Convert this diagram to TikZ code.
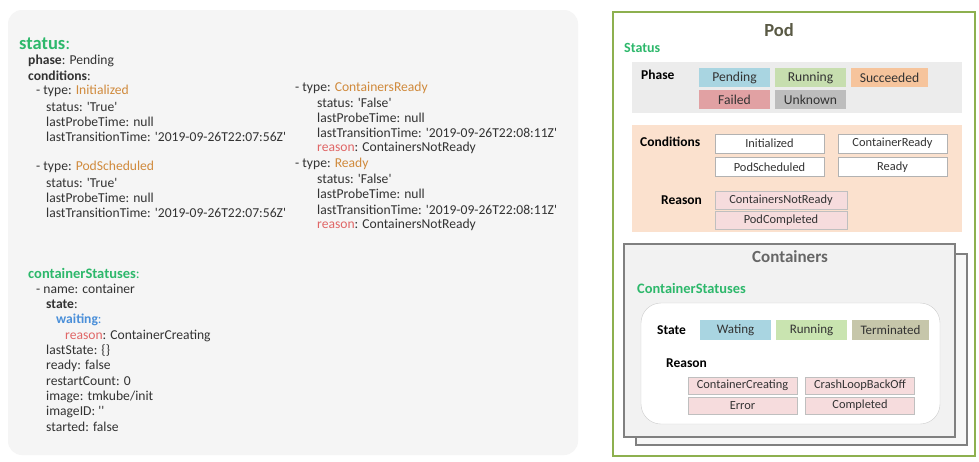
\documentclass[tikz,border=0pt]{standalone}
\usepackage{fontspec}
\setmainfont{Carlito}[Ligatures=TeXOff]
\definecolor{grn}{HTML}{2DB86B}
\definecolor{org}{HTML}{D08A3C}
\definecolor{rsn}{HTML}{E06666}
\definecolor{blu}{HTML}{4A8FD9}
\definecolor{txt}{HTML}{333333}
\definecolor{podbd}{HTML}{8DB04F}
\definecolor{podt}{HTML}{5A5A45}
\definecolor{phbg}{HTML}{ECECEC}
\definecolor{cobg}{HTML}{FBE1CE}
\definecolor{cpend}{HTML}{A9D5E1}
\definecolor{crun}{HTML}{C7DEAF}
\definecolor{csucc}{HTML}{F6C49C}
\definecolor{cfail}{HTML}{E1A1A3}
\definecolor{cunk}{HTML}{BDBDBD}
\definecolor{cpink}{HTML}{F6DCDD}
\definecolor{cterm}{HTML}{C6C6AA}
\definecolor{cwrun}{HTML}{C9E4B0}
\tikzset{
  code/.style={anchor=west, inner sep=0pt, text=txt, font=\fontsize{13.6}{15}\selectfont},
  lbl/.style={anchor=west, inner sep=0pt, text=black, font=\fontsize{13.5}{15}\selectfont\bfseries},
  tag/.style={inner sep=0pt, text=txt, font=\fontsize{12.4}{14}\selectfont, minimum height=19pt},
  ptag/.style={tag, font=\fontsize{13.6}{15}\selectfont, minimum width=71pt},
  wbox/.style={tag, fill=white, draw=black!30, minimum width=109pt},
  pbox/.style={tag, fill=cpink, draw=black!25, minimum width=109pt, minimum height=18pt},
}
\begin{document}
\begin{tikzpicture}[x=1pt,y=-1pt]
\useasboundingbox (0,0) rectangle (979,461);
\fill[white] (0,0) rectangle (979,461);
% left panel
\fill[black!4, rounded corners=14pt] (8,10) rectangle (578,455);
\node[anchor=west, inner sep=0pt, text=grn, font=\fontsize{18.5}{20}\selectfont\bfseries] (st) at (19,44) {status\textmd{:}};
\node[code] (ph) at (28,61) {\textbf{phase}: Pending};
\node[code] (co) at (28,76) {\textbf{conditions}:};
\node[code] (a1) at (36,91) {- type: \textcolor{org}{Initialized}};
\node[code] (a2) at (46,107) {status: 'True'};
\node[code] (a3) at (46,122) {lastProbeTime: null};
\node[code] (a4) at (46,137) {lastTransitionTime: '2019-09-26T22:07:56Z'};
\node[code] (b1) at (36,167) {- type: \textcolor{org}{PodScheduled}};
\node[code] (b2) at (46,183) {status: 'True'};
\node[code] (b3) at (46,198) {lastProbeTime: null};
\node[code] (b4) at (46,213) {lastTransitionTime: '2019-09-26T22:07:56Z'};
\node[code] (c1) at (295,88) {- type: \textcolor{org}{ContainersReady}};
\node[code] (c2) at (317,103) {status: 'False'};
\node[code] (c3) at (317,118) {lastProbeTime: null};
\node[code] (c4) at (317,133) {lastTransitionTime: '2019-09-26T22:08:11Z'};
\node[code] (c5) at (317,148) {\textcolor{rsn}{reason}: ContainersNotReady};
\node[code] (d1) at (295,164) {- type: \textcolor{org}{Ready}};
\node[code] (d2) at (317,179) {status: 'False'};
\node[code] (d3) at (317,194) {lastProbeTime: null};
\node[code] (d4) at (317,210) {lastTransitionTime: '2019-09-26T22:08:11Z'};
\node[code] (d5) at (317,225) {\textcolor{rsn}{reason}: ContainersNotReady};
\node[code, text=grn, font=\fontsize{14.5}{16}\selectfont] (cs) at (28,273) {\textbf{containerStatuses}:};
\node[code] (e1) at (36,289) {- name: container};
\node[code] (e2) at (46,304) {\textbf{state}:};
\node[code] (e3) at (56,320) {\textcolor{blu}{\textbf{waiting}:}};
\node[code] (e4) at (65,336) {\textcolor{rsn}{reason}: ContainerCreating};
\node[code] (e5) at (46,351) {lastState: \{\}};
\node[code] (e6) at (46,366) {ready: false};
\node[code] (e7) at (46,381) {restartCount: 0};
\node[code] (e8) at (46,397) {image: tmkube/init};
\node[code] (e9) at (46,412) {imageID: ''};
\node[code] (e10) at (46,427) {started: false};
% Pod
\draw[podbd, line width=1.6pt] (613,12) rectangle (975,456);
\node[text=podt, font=\fontsize{18.5}{20}\selectfont\bfseries, inner sep=0pt] (pod) at (779,30) {Pod};
\node[anchor=west, inner sep=0pt, text=grn, font=\fontsize{14}{16}\selectfont\bfseries] (pst) at (624,48) {Status};
% Phase
\fill[phbg] (632,62) rectangle (962,113);
\node[lbl] (phase) at (641,75) {Phase};
\node[ptag, fill=cpend] (pending) at (734.5,77.5) {Pending};
\node[ptag, fill=crun] (running) at (810.5,77.5) {Running};
\node[ptag, fill=csucc, minimum width=77pt] (succ) at (889.5,77.5) {Succeeded};
\node[ptag, fill=cfail] (failed) at (734.5,99.5) {Failed};
\node[ptag, fill=cunk] (unknown) at (810.5,99.5) {Unknown};
% Conditions
\fill[cobg] (632,125) rectangle (962,232);
\node[lbl] (cond) at (640,142) {Conditions};
\node[wbox] (init) at (769.5,143.5) {Initialized};
\node[wbox] (cready) at (892.5,143.5) {ContainerReady};
\node[wbox] (psched) at (769.5,167) {PodScheduled};
\node[wbox] (ready) at (892.5,167) {Ready};
\node[lbl] (reason1) at (661,200) {Reason};
\node[pbox, minimum width=132pt] (cnr) at (781,200) {ContainersNotReady};
\node[pbox, minimum width=132pt] (pcomp) at (781,220) {PodCompleted};
% Containers
\draw[black!50, line width=1.3pt, fill=black!3] (636,254) rectangle (967,445);
\draw[black!50, line width=1.3pt, fill=black!5] (624,244) rectangle (955,437);
\node[text=black!60, font=\fontsize{17}{19}\selectfont\bfseries, inner sep=0pt] (cont) at (790,257) {Containers};
\node[anchor=west, inner sep=0pt, text=grn, font=\fontsize{14.4}{16}\selectfont\bfseries] (cst) at (637,288) {ContainerStatuses};
\draw[black!20, fill=white, rounded corners=20pt] (641,303) rectangle (940,424);
\node[lbl] (state) at (657,330) {State};
\node[tag, fill=cpend, minimum width=71pt, minimum height=20pt, font=\fontsize{13}{15}\selectfont] (wating) at (735.5,330) {Wating};
\node[tag, fill=cwrun, minimum width=71pt, minimum height=20pt, font=\fontsize{13}{15}\selectfont] (wrun) at (811.5,330) {Running};
\node[tag, fill=cterm, minimum width=77pt, minimum height=20pt, font=\fontsize{13}{15}\selectfont] (term) at (890.5,330) {Terminated};
\node[lbl] (reason2) at (666,363) {Reason};
\node[pbox, minimum height=17pt] (ccreat) at (742.5,385.5) {ContainerCreating};
\node[pbox, minimum height=17pt] (crash) at (860,385.5) {CrashLoopBackOff};
\node[pbox, minimum height=17pt] (err) at (742.5,405.5) {Error};
\node[pbox, minimum height=17pt] (compl) at (860,405.5) {Completed};
\end{tikzpicture}
\end{document}
